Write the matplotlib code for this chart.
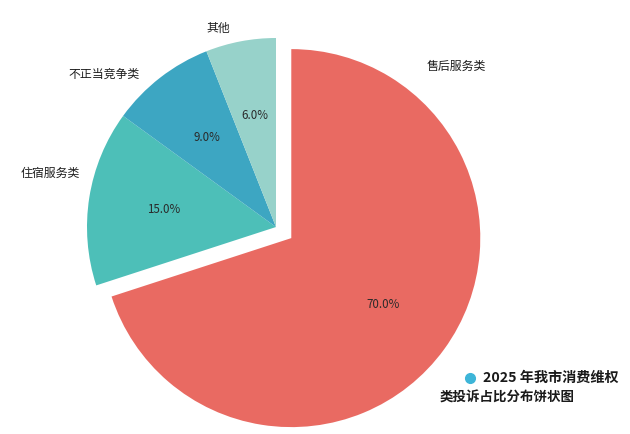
import matplotlib
matplotlib.use('Agg')
import matplotlib.pyplot as plt

plt.rcParams['font.family'] = ['Noto Sans CJK SC', 'DejaVu Sans']

# data
categories = ['售后服务类', '住宿服务类', '不正当竞争类', '其他']
shares = [70.0, 15.0, 9.0, 6.0]
colors = ['#E96A62', '#4DBFB8', '#3DA6C2', '#97D2CA']
explode = [0.1, 0, 0, 0]
title_lines = ['2025 年我市消费维权', '类投诉占比分布饼状图']

# pixel -> data helpers (pie radius 189 px, centre at 276,227)
R_PX = 189.0
CX, CY = 276.0, 227.0
W, H = 630, 434


def px(x, y):
    return (x - CX) / R_PX, (CY - y) / R_PX


fig = plt.figure(figsize=(6.3, 4.34), dpi=100)
ax = fig.add_axes([0, 0, 1, 1])

wedges, texts, autotexts = ax.pie(
    shares, labels=categories, colors=colors, explode=explode,
    startangle=90, counterclock=False, autopct='%1.1f%%', pctdistance=0.6,
    labeldistance=1.1, wedgeprops=dict(linewidth=0),
    textprops=dict(fontsize=8, color='#333333'))

for t in autotexts:
    t.set_fontsize(8.3)
    t.set_color('#2a2a2a')

# label positions as in the reference
label_pos = {
    '售后服务类': (px(427, 66), 'left'),
    '住宿服务类': (px(80, 173), 'right'),
    '不正当竞争类': (px(140, 74), 'right'),
    '其他': (px(230, 28), 'right'),
}
for t in texts:
    pos, ha = label_pos[t.get_text()]
    t.set_position(pos)
    t.set_ha(ha)
    t.set_va('center')
    t.set_fontsize(8.6)
    t.set_color('#1e1e1e')

# caption with dot
dx, dy = px(470, 378)
ax.plot([dx], [dy], 'o', color='#3DB5D8', markersize=7, clip_on=False)
x1, y1 = px(483, 378)
ax.text(x1, y1, title_lines[0], fontsize=10.2, fontweight='bold',
        color='#1a1a1a', ha='left', va='center')
x2, y2 = px(440, 398)
ax.text(x2, y2, title_lines[1], fontsize=9.7, fontweight='bold',
        color='#1a1a1a', ha='left', va='center')

ax.set_xlim(-CX / R_PX, (W - CX) / R_PX)
ax.set_ylim(-(H - CY) / R_PX, CY / R_PX)
ax.set_aspect('equal', adjustable='datalim')
ax.axis('off')

fig.savefig('out.png', dpi=100)
